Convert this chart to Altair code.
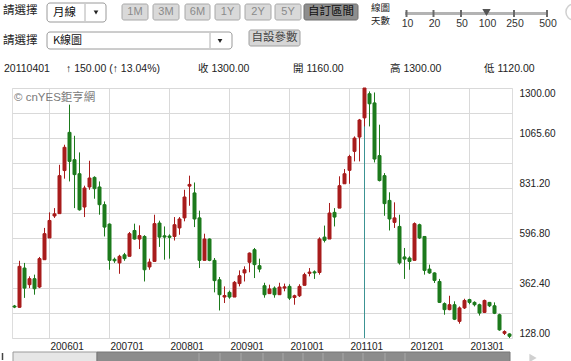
import altair as alt
import pandas as pd

# ---------------- data ----------------
months = [p.strftime('%Y%m') for p in pd.period_range('2005-06', '2013-09', freq='M')]
opens = [278, 272, 456, 378, 406, 367, 495, 597, 700, 711,
         913, 1092, 964, 898, 742, 836, 881, 836, 753, 662,
         497, 480, 518, 511, 632, 592, 604, 461, 487, 667,
         607, 606, 604, 644, 691, 840, 808, 691, 492, 592,
         492, 401, 320, 342, 320, 383, 433, 483, 542, 467,
         373, 336, 362, 331, 362, 370, 318, 326, 375, 431,
         438, 435, 601, 592, 717, 737, 851, 914, 1003, 1070,
         1160, 1273, 1230, 983, 889, 773, 670, 651, 508, 503,
         492, 659, 604, 451, 433, 393, 289, 261, 284, 206,
         269, 308, 295, 284, 248, 295, 279, 237, 150, 147]
highs = [283, 490, 480, 417, 425, 508, 644, 717, 737, 940,
         1034, 1222, 1076, 998, 842, 959, 886, 862, 768, 665,
         505, 518, 527, 625, 664, 656, 610, 500, 706, 678,
         651, 614, 695, 695, 823, 889, 857, 725, 617, 595,
         503, 414, 370, 350, 395, 445, 464, 529, 550, 500,
         387, 378, 370, 387, 383, 380, 331, 380, 434, 456,
         445, 600, 655, 761, 737, 886, 920, 987, 1073, 1155,
         1300, 1284, 1279, 1128, 901, 811, 764, 706, 550, 511,
         670, 664, 606, 472, 436, 405, 295, 326, 300, 276,
         312, 312, 300, 289, 308, 297, 295, 242, 164, 150]
lows = [268, 270, 316, 362, 331, 362, 495, 597, 691, 711,
        875, 862, 737, 725, 695, 823, 781, 706, 604, 448,
        480, 429, 490, 511, 589, 545, 393, 448, 487, 555,
        495, 500, 585, 612, 675, 748, 648, 456, 492, 488,
        342, 257, 292, 312, 320, 370, 393, 436, 409, 436,
        317, 336, 317, 331, 347, 306, 284, 320, 375, 417,
        405, 425, 576, 592, 651, 737, 851, 851, 956, 956,
        1120, 1120, 951, 862, 701, 632, 644, 472, 405, 448,
        492, 592, 425, 429, 386, 292, 237, 258, 212, 195,
        264, 286, 276, 233, 245, 273, 240, 162, 142, 128]
closes = [273, 464, 362, 406, 359, 500, 617, 679, 710, 889,
          1022, 956, 894, 729, 831, 878, 828, 753, 648, 492,
          490, 511, 500, 617, 592, 608, 448, 484, 664, 601,
          601, 600, 659, 686, 789, 848, 686, 492, 592, 492,
          397, 331, 327, 320, 389, 420, 448, 526, 472, 451,
          331, 358, 331, 367, 368, 315, 326, 370, 425, 437,
          433, 592, 586, 714, 695, 842, 898, 979, 1065, 1150,
          1300, 1226, 967, 866, 758, 686, 691, 480, 498, 487,
          664, 597, 445, 433, 398, 295, 261, 284, 216, 269,
          304, 295, 284, 245, 304, 279, 244, 166, 158, 136]

year_labels = ['200601', '200701', '200801', '200901', '201001', '201101', '201201', '201301']
y_ticks = [128.0, 245.2, 362.4, 479.6, 596.8, 714.0, 831.2, 948.4, 1065.6, 1182.8, 1300.0]
y_min, y_max = 128.0, 1300.0
highlight = '201104'
range_buttons = ['1M', '3M', '6M', '1Y', '2Y', '5Y']
custom_button = '自訂區間'
day_options = ['10', '20', '50', '100', '250', '500']
selected_days = '100'

# ---------------- styles ----------------
RED, GREEN = '#a81c1c', '#1d7a1d'
FONT = 'Liberation Sans, Arial, Noto Sans CJK TC'
CJK = 'Noto Sans CJK TC, Liberation Sans'
OX, OY = 12, 88  # plot origin inside the page

df = pd.DataFrame({'month': months, 'open': opens, 'high': highs, 'low': lows, 'close': closes})
df['dir'] = ['up' if c >= o else 'down' for o, c in zip(opens, closes)]

hi = months.index(highlight)
h_open, h_high, h_low, h_close = opens[hi], highs[hi], lows[hi], closes[hi]
h_chg = h_close - closes[hi - 1]
h_pct = h_chg / closes[hi - 1] * 100
arrow = '↑' if h_chg >= 0 else '↓'

xs = alt.Scale(domain=months, paddingInner=0, paddingOuter=0)
ys = alt.Scale(domain=[y_min, y_max], nice=False, zero=False)
col = alt.Scale(domain=['up', 'down'], range=[RED, GREEN])

x_axis = alt.Axis(values=year_labels, title=None, labelAngle=0, labelAlign='left', labelBaseline='top',
                  labelOffset=1, labelPadding=3, labelFontSize=10, labelColor='#222', labelFont=FONT,
                  labelOverlap=False, ticks=False, domain=False, grid=True, gridColor='#d9d9d9', gridWidth=1)
y_axis = alt.Axis(orient='right', values=y_ticks, title=None, ticks=False, domain=False,
                  grid=True, gridColor='#d9d9d9', gridWidth=1, labelPadding=7, labelFontSize=10,
                  labelColor='#222', labelFont=FONT, labelOverlap=False,
                  labelExpr="round((datum.value - 128) / 117.2) % 2 == 0 ? format(datum.value, '.2f') : ''",
                  labelBaseline={'condition': {'test': 'datum.value > 1299', 'value': 'top'}, 'value': 'bottom'})

X = alt.X('month:O', scale=xs, axis=x_axis)

cross = alt.Chart(pd.DataFrame({'month': [highlight]})).mark_rule(color='#3c9393', strokeWidth=1).encode(x=X)
wick = alt.Chart(df).mark_rule(strokeWidth=1).encode(
    x=X, y=alt.Y('low:Q', scale=ys, axis=y_axis), y2='high:Q',
    color=alt.Color('dir:N', scale=col, legend=None))
body = alt.Chart(df).mark_bar(size=3, strokeWidth=1).encode(
    x=X, y=alt.Y('open:Q', scale=ys, axis=y_axis), y2='close:Q',
    fill=alt.Fill('dir:N', scale=col, legend=None),
    stroke=alt.Stroke('dir:N', scale=col, legend=None))

# ---------------- page chrome ----------------
dummy = pd.DataFrame({'k': [0]})


def txt(s, x, y, size=11, color='#222', align='left', font=FONT, baseline='middle'):
    return alt.Chart(dummy).mark_text(text=s, align=align, baseline=baseline, fontSize=size,
                                      color=color, font=font).encode(
        x=alt.value(x - OX), y=alt.value(y - OY))


def box(x1, y1, x2, y2, fill, stroke, radius=0, sw=1):
    return alt.Chart(dummy).mark_rect(fill=fill, stroke=stroke, strokeWidth=sw, cornerRadius=radius).encode(
        x=alt.value(x1 - OX), x2=alt.value(x2 - OX), y=alt.value(y1 - OY), y2=alt.value(y2 - OY))


def line(x1, y1, x2, y2, color, sw=1):
    return alt.Chart(dummy).mark_rule(color=color, strokeWidth=sw).encode(
        x=alt.value(x1 - OX), x2=alt.value(x2 - OX), y=alt.value(y1 - OY), y2=alt.value(y2 - OY))


def tri(x, y, shape, size, color):
    return alt.Chart(dummy).mark_point(shape=shape, size=size, filled=True, color=color, opacity=1).encode(
        x=alt.value(x - OX), y=alt.value(y - OY))


ui = []
# row 1
ui.append(txt('請選擇', 3, 11, 11.5, '#222', font=CJK))
ui.append(box(47, 3, 106, 22, 'white', '#9a9a9a', 3))
ui.append(line(85, 4, 85, 21, '#b0b0b0'))
ui.append(txt('月線', 53, 12.5, 11.5, '#111', font=CJK))
ui.append(tri(96, 12.5, 'triangle-down', 22, '#222'))
btn_x = [(122, 148), (153, 179), (185, 210), (215, 240), (245, 271), (275, 301)]
for lbl, (a, b) in zip(range_buttons, btn_x):
    ui.append(box(a, 4, b, 20, '#d9d9d9', '#a8a8a8', 2))
    ui.append(txt(lbl, (a + b) / 2, 12, 11, '#8a8a8a', 'center'))
ui.append(box(304, 4, 358, 20, '#8e8e8e', '#6e6e6e', 2))
ui.append(txt(custom_button, 331, 12, 11.5, '#111', 'center', CJK))
ui.append(txt('線圖', 371, 7.5, 9.5, '#222', font=CJK))
ui.append(txt('天數', 371, 20.5, 9.5, '#222', font=CJK))
slider_x = [406.5, 433.5, 461, 486.5, 514, 547]
ui.append(line(405, 13.5, 547, 13.5, '#b3b3b3', 3))
for lbl, sx in zip(day_options, slider_x):
    if lbl == selected_days:
        ui.append(tri(sx, 12.5, 'triangle-down', 70, '#555'))
    else:
        ui.append(line(sx, 10, sx, 17, '#6a6a6a', 2))
    ui.append(txt(lbl, sx + 1, 23.5, 10.5, '#333', 'center'))
ui.append(alt.Chart(dummy).mark_point(shape='circle', size=260, filled=False, color='#bdbdbd',
                                      strokeWidth=1.5).encode(x=alt.value(574 - OX), y=alt.value(12 - OY)))
# row 2
ui.append(txt('請選擇', 3, 41, 11.5, '#222', font=CJK))
ui.append(box(47, 32, 232, 49, 'white', '#9a9a9a', 3))
ui.append(line(210, 33, 210, 48, '#b0b0b0'))
ui.append(txt('K線圖', 53, 41, 11, '#111', font=CJK))
ui.append(tri(220, 41, 'triangle-down', 22, '#222'))
ui.append(box(249, 30, 300, 46, '#d6d6d6', '#a0a0a0', 2))
ui.append(txt('自設參數', 274.5, 38, 11.5, '#444', 'center', CJK))
# row 3: info for the highlighted month
ui.append(txt(highlight + '01', 4, 68.5, 10.5))
ui.append(txt(f'{arrow} {abs(h_chg):.2f} ({arrow} {abs(h_pct):.2f}%)', 66, 68.5, 10.5))
ui.append(txt(f'收 {h_close:.2f}', 198, 68.5, 10.5))
ui.append(txt(f'開 {h_open:.2f}', 293, 68.5, 10.5))
ui.append(txt(f'高 {h_high:.2f}', 390, 68.5, 10.5))
ui.append(txt(f'低 {h_low:.2f}', 484, 68.5, 10.5))
# watermark
ui.append(txt('© cnYES鉅亨網', 14, 98, 11.5, '#7a7a7a'))
# scrollbar
ui.append(box(13, 352, 97, 362, '#e6e6e6', '#9a9a9a'))
ui.append(box(97, 352, 510, 362, '#8c8c8c', '#777777'))
for sx in [199, 220, 241, 263, 283, 303, 323, 343, 363, 385, 405]:
    ui.append(line(sx, 353, sx, 361, '#a8a8a8'))
ui.append(tri(533, 358, 'triangle-right', 70, '#d0d0d0'))
ui.append(line(2.5, 353, 2.5, 360, '#444', 1.5))

chart = alt.layer(cross, wick, body, *ui).properties(
    width=500, height=250,
    padding={'left': OX, 'top': OY, 'right': 571 - 512, 'bottom': 361 - 338},
    autosize=alt.AutoSizeParams(type='none'),
).configure_view(stroke='#c8c8c8', strokeWidth=2).configure(background='white')

chart.save('out.html', embed_options={'renderer': 'svg', 'actions': False})
